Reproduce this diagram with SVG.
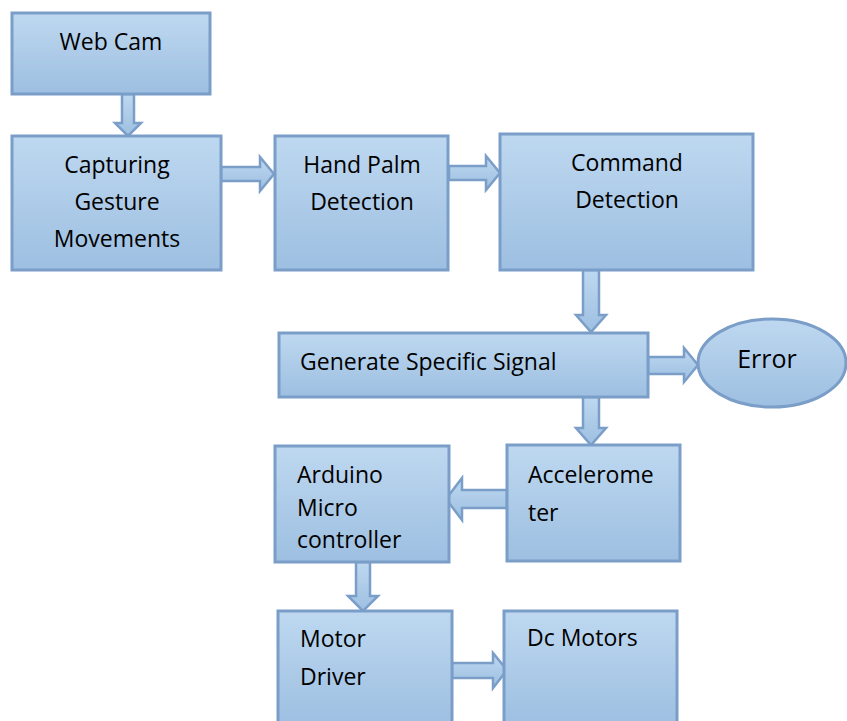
<svg xmlns="http://www.w3.org/2000/svg" width="847" height="721" viewBox="0 0 847 721">
<defs>
<linearGradient id="g" x1="0" y1="0" x2="0" y2="1">
<stop offset="0" stop-color="#bed8f0"/>
<stop offset="1" stop-color="#9dbfe1"/>
</linearGradient>
<style>
.n{fill:url(#g);stroke:#7a9ec8;stroke-width:3}
.a{fill:url(#g);stroke:#7a9ec8;stroke-width:2.5;stroke-linejoin:miter}
text{font-family:"Open Sans","Liberation Sans",sans-serif;font-size:23px;fill:#000}
.c{text-anchor:middle}
</style>
</defs>
<rect width="847" height="721" fill="#fff"/>
<g id="connectors">
<path class="a" d="M122,94 H134 V123 H141 L128,136 L115,123 H122 Z"/>
<path class="a" d="M221,167 H260 V157 L274,174 L260,191 V181 H221 Z"/>
<path class="a" d="M449,166 H486 V156 L500,173 L486,190 V180 H449 Z"/>
<path class="a" d="M583,270 H599 V315 H606 L591,332 L576,315 H583 Z"/>
<path class="a" d="M648,357 H684 V348 L698,365 L684,382 V374 H648 Z"/>
<path class="a" d="M583,397 H599 V428 H606 L591,445 L576,428 H583 Z"/>
<path class="a" d="M507,490 H462 V478 L446,499 L462,520 V508 H507 Z"/>
<path class="a" d="M356,562 H370 V596 H378 L363,611 L348,596 H356 Z"/>
<path class="a" d="M452,663 H493 V653 L507,670 L493,688 V678 H452 Z"/>
</g>
<g id="webcam"><rect class="n" x="12" y="13" width="198" height="81"/><text class="c" x="111" y="50">Web Cam</text></g>
<g id="capturing"><rect class="n" x="12" y="136" width="209" height="134"/><text class="c" x="117" y="173">Capturing</text><text class="c" x="117" y="210">Gesture</text><text class="c" x="117" y="247">Movements</text></g>
<g id="handpalm"><rect class="n" x="275" y="136" width="173" height="134"/><text class="c" x="362" y="173">Hand Palm</text><text class="c" x="362" y="210">Detection</text></g>
<g id="command"><rect class="n" x="500" y="134" width="253" height="136"/><text class="c" x="627" y="171">Command</text><text class="c" x="627" y="208">Detection</text></g>
<g id="generate"><rect class="n" x="279" y="333" width="369" height="64"/><text x="300" y="370">Generate Specific Signal</text></g>
<g id="error"><ellipse class="n" cx="772" cy="363" rx="74" ry="44"/><text class="c" x="767" y="368" style="font-size:25px">Error</text></g>
<g id="accelerometer"><rect class="n" x="507" y="445" width="173" height="116"/><text x="528" y="483">Accelerome</text><text x="528" y="521">ter</text></g>
<g id="arduino"><rect class="n" x="275" y="446" width="174" height="116"/><text x="297" y="483">Arduino</text><text x="297" y="516">Micro</text><text x="297" y="548">controller</text></g>
<g id="motordriver"><rect class="n" x="278" y="611" width="174" height="115"/><text x="300" y="647">Motor</text><text x="300" y="685">Driver</text></g>
<g id="dcmotors"><rect class="n" x="504" y="611" width="173" height="115"/><text x="527" y="646">Dc Motors</text></g>
</svg>
